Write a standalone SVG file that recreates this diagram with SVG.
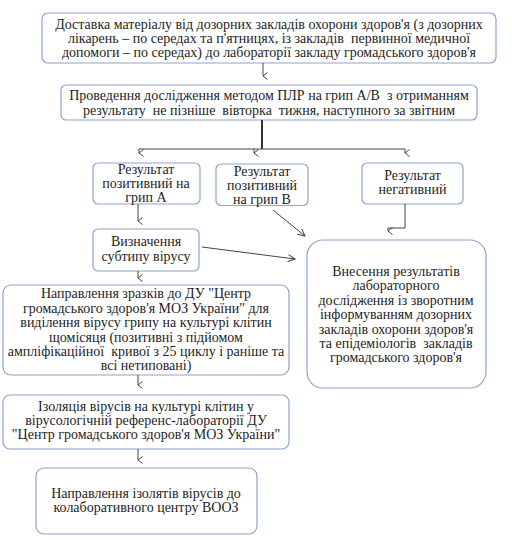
<svg xmlns="http://www.w3.org/2000/svg" width="512" height="540" viewBox="0 0 512 540">
<defs>
<marker id="ah" markerWidth="8" markerHeight="6" refX="4" refY="5" orient="auto-start-reverse" markerUnits="userSpaceOnUse" viewBox="0 0 8 6">
<path d="M0.5,0.5 L4,5 L7.5,0.5" fill="none" stroke="#444" stroke-width="1"/>
</marker>
<marker id="ar" markerWidth="9" markerHeight="8" refX="8" refY="4" orient="auto" markerUnits="userSpaceOnUse" viewBox="0 0 9 8">
<path d="M1,0.5 L8,4 L1,7.5" fill="none" stroke="#444" stroke-width="1"/>
</marker>
</defs>
<style>
.box{fill:#fff;stroke:#8fa3cb;stroke-width:1.2}
.t{font-family:"Liberation Serif","Times New Roman",serif;font-size:14px;fill:#1e1e1e;text-anchor:middle;white-space:pre}
.ln{fill:none;stroke:#444;stroke-width:1}
.thick{fill:none;stroke:#333;stroke-width:2}
</style>
<rect width="512" height="540" fill="#fff"/>
<g id="n1" xml:space="preserve">
<rect class="box" x="42" y="13" width="454" height="50" rx="6"/>
<text class="t" x="269" y="29.3">Доставка матеріалу від дозорних закладів охорони здоров'я (з дозорних</text>
<text class="t" x="269" y="42.8">лікарень – по середах та п'ятницях, із закладів  первинної медичної</text>
<text class="t" x="269" y="56.5">допомоги – по середах) до лабораторії закладу громадського здоров'я</text>
</g>
<g id="n2" xml:space="preserve">
<rect class="box" x="61" y="85" width="416" height="35" rx="5"/>
<text class="t" x="269" y="100">Проведення дослідження методом ПЛР на грип А/В  з отриманням</text>
<text class="t" x="269" y="115">результату  не пізніше  вівторка  тижня, наступного за звітним</text>
</g>
<g id="nA">
<rect class="box" x="93" y="163" width="107" height="41" rx="5"/>
<text class="t" x="146" y="173.5">Результат</text>
<text class="t" x="146" y="188">позитивний на</text>
<text class="t" x="146" y="201.5">грип А</text>
</g>
<g id="nB">
<rect class="box" x="216" y="164" width="92" height="41.5" rx="5"/>
<text class="t" x="262" y="176">Результат</text>
<text class="t" x="262" y="190">позитивний</text>
<text class="t" x="262" y="203.5">на грип В</text>
</g>
<g id="nNeg">
<rect class="box" x="362" y="163" width="101" height="41" rx="5"/>
<text class="t" x="412.5" y="179.5">Результат</text>
<text class="t" x="412.5" y="194">негативний</text>
</g>
<g id="nSub">
<rect class="box" x="93" y="229" width="106" height="42" rx="5"/>
<text class="t" x="146" y="246">Визначення</text>
<text class="t" x="146" y="261">субтипу вірусу</text>
</g>
<g id="nRes" xml:space="preserve">
<rect class="box" x="307" y="240" width="179" height="148" rx="16"/>
<text class="t" x="396" y="276">Внесення результатів</text>
<text class="t" x="396" y="290">лабораторного</text>
<text class="t" x="396" y="305">дослідження із зворотним</text>
<text class="t" x="396" y="319.3">інформуванням дозорних</text>
<text class="t" x="396" y="333.6">закладів охорони здоров'я</text>
<text class="t" x="396" y="347.5">та епідеміологів  закладів</text>
<text class="t" x="396" y="361.7">громадського здоров'я</text>
</g>
<g id="nSend" xml:space="preserve">
<rect class="box" x="3" y="285" width="286" height="90" rx="8"/>
<text class="t" x="146" y="298.3">Направлення зразків до ДУ "Центр</text>
<text class="t" x="146" y="312.7">громадського здоров'я МОЗ України" для</text>
<text class="t" x="146" y="327.2">виділення вірусу грипу на культурі клітин</text>
<text class="t" x="146" y="341.6">щомісяця (позитивні з підйомом</text>
<text class="t" x="146" y="356">ампліфікаційної  кривої з 25 циклу і раніше та</text>
<text class="t" x="146" y="370">всі нетиповані)</text>
</g>
<g id="nIso">
<rect class="box" x="3" y="395" width="286" height="54" rx="7"/>
<text class="t" x="146" y="410.7">Ізоляція вірусів на культурі клітин у</text>
<text class="t" x="146" y="425">вірусологічній референс-лабораторії ДУ</text>
<text class="t" x="146" y="439.3">"Центр громадського здоров'я МОЗ України"</text>
</g>
<g id="nWHO">
<rect class="box" x="36" y="468" width="221" height="66" rx="8"/>
<text class="t" x="146" y="498">Направлення ізолятів вірусів до</text>
<text class="t" x="146" y="512">колаборативного центру ВООЗ</text>
</g>
<g id="connectors">
<line class="ln" x1="263" y1="63" x2="263" y2="76" marker-end="url(#ah)"/>
<path class="thick" d="M262,120 V149"/>
<path class="ln" d="M139,149 H405"/>
<line class="ln" x1="139" y1="149" x2="139" y2="153" marker-end="url(#ah)"/>
<line class="ln" x1="254" y1="149" x2="254" y2="153" marker-end="url(#ah)"/>
<line class="ln" x1="405" y1="149" x2="405" y2="153" marker-end="url(#ah)"/>
<line class="ln" x1="138" y1="204" x2="138" y2="221" marker-end="url(#ah)"/>
<line class="ln" x1="273" y1="210" x2="305" y2="236" marker-end="url(#ar)"/>
<path class="ln" d="M405,204 V228 H388 V231" marker-end="url(#ah)"/>
<line class="ln" x1="202" y1="247" x2="295" y2="259" marker-end="url(#ar)"/>
<line class="ln" x1="138" y1="271" x2="138" y2="278" marker-end="url(#ah)"/>
<line class="ln" x1="138" y1="375" x2="138" y2="385" marker-end="url(#ah)"/>
<line class="ln" x1="138" y1="449" x2="138" y2="460" marker-end="url(#ah)"/>
</g>
</svg>
